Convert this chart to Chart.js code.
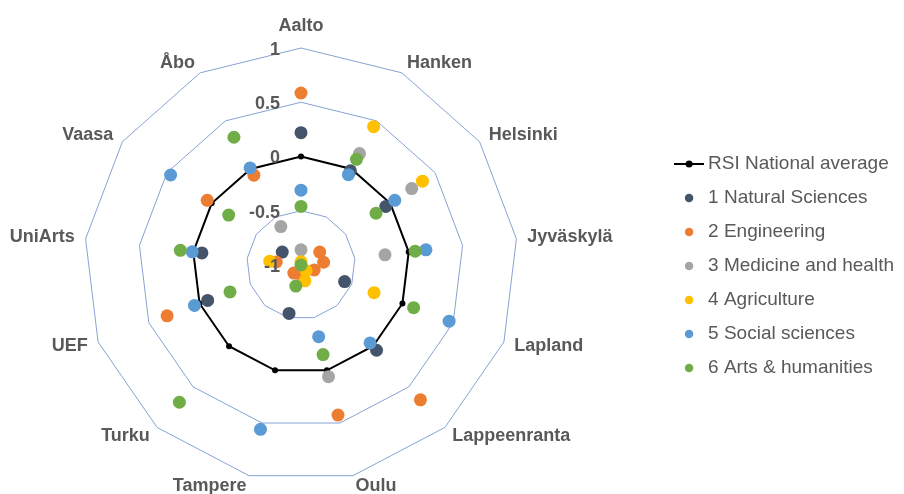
<!DOCTYPE html>
<html lang="en">
  <head>
    <meta charset="UTF-8" />
    <title>RSI radar</title>
    <script src="https://cdn.jsdelivr.net/npm/chart.js"></script>
    <style>
      html, body { margin: 0; padding: 0; background: #fff; overflow: hidden; }
      #wrap { position: relative; width: 904px; height: 494px; }
    </style>
  </head>
  <body>
    <div id="wrap"><canvas id="myChart"></canvas></div>

    <script>
      // universities round the radar, starting at the top, clockwise
      const categories = ["Aalto", "Hanken", "Helsinki", "Jyväskylä", "Lapland", "Lappeenranta",
        "Oulu", "Tampere", "Turku", "UEF", "UniArts", "Vaasa", "Åbo"];
      const tickValues = [-1, -0.5, 0, 0.5, 1];

      // RSI values per field (null = not plotted)
      const nationalAvg = [0, 0, 0, 0, 0, 0, 0, 0, 0, 0, 0, 0, 0];
      const naturalSciences = [0.22, -0.02, -0.05, null, -0.57, 0.05, null, -0.54, null, -0.08, -0.08, -0.79, null];
      const engineering = [0.585, null, -0.79, -0.79, -0.87, 0.66, 0.425, -0.92, -0.9, 0.32, -0.77, 0.05, -0.065];
      const medicine = [-0.86, 0.16, 0.24, -0.22, null, null, 0.06, null, null, null, null, null, -0.6];
      const agriculture = [-0.97, 0.44, 0.36, null, -0.28, -0.93, -0.85, null, null, null, -0.71, null, null];
      const socialSciences = [-0.31, -0.06, 0.05, 0.16, 0.46, -0.04, -0.32, 0.56, null, 0.05, 0.01, 0.46, 0.01];
      const artsHumanities = [-0.46, 0.1, -0.16, 0.06, 0.11, -1, -0.15, -0.8, 0.69, -0.3, 0.12, -0.19, 0.33];

      const grey = "#595959";
      const fontFamily = "'Liberation Sans', Arial, sans-serif";

      // legend icon for the average: short line with a dot
      const lineIcon = document.createElement("canvas");
      lineIcon.width = 30;
      lineIcon.height = 10;
      const ic = lineIcon.getContext("2d");
      ic.strokeStyle = "#000";
      ic.lineWidth = 2;
      ic.beginPath();
      ic.moveTo(0, 5);
      ic.lineTo(30, 5);
      ic.stroke();
      ic.beginPath();
      ic.arc(15, 5, 3.5, 0, Math.PI * 2);
      ic.fillStyle = "#000";
      ic.fill();

      function dots(label, data, color, order) {
        return {
          label: label,
          data: data,
          showLine: false,
          fill: false,
          borderColor: color,
          backgroundColor: color,
          pointBackgroundColor: color,
          pointBorderColor: color,
          pointBorderWidth: 0,
          pointRadius: 6.5,
          pointHoverRadius: 6.5,
          order: order
        };
      }

      // Excel-like labels: university names outside the rim, value labels left of the axis
      const excelLabels = {
        id: "excelLabels",
        afterDatasetsDraw(chart) {
          const r = chart.scales.r;
          const ctx = chart.ctx;
          ctx.save();
          ctx.fillStyle = grey;
          ctx.font = "bold 18px " + fontFamily;
          ctx.textBaseline = "middle";
          categories.forEach((name, i) => {
            const p = r.getPointPosition(i, r.drawingArea + 11);
            if (i === 0) {
              ctx.textAlign = "center";
              ctx.fillText(name, p.x, p.y - 11);
            } else {
              ctx.textAlign = p.x > r.xCenter ? "left" : "right";
              ctx.fillText(name, p.x, p.y);
            }
          });
          ctx.textAlign = "right";
          r.ticks.forEach(t => {
            const y = r.yCenter - r.getDistanceFromCenterForValue(t.value);
            ctx.fillText(t.label, r.xCenter - 21, y + 2);
          });
          ctx.restore();
        }
      };

      const ctx = document.getElementById("myChart").getContext("2d");
      const myChart = new Chart(ctx, {
        type: "radar",
        data: {
          labels: categories,
          datasets: [
            {
              label: "RSI National average",
              data: nationalAvg,
              fill: false,
              borderColor: "#000",
              backgroundColor: "#000",
              borderWidth: 2,
              pointBackgroundColor: "#000",
              pointBorderWidth: 0,
              pointRadius: 3,
              pointHoverRadius: 3,
              order: 7
            },
            dots("1 Natural Sciences", naturalSciences, "#44546A", 6),
            dots("2 Engineering", engineering, "#ED7D31", 5),
            dots("3 Medicine and health", medicine, "#A5A5A5", 4),
            dots("4 Agriculture", agriculture, "#FFC000", 3),
            dots("5 Social sciences", socialSciences, "#5B9BD5", 2),
            dots("6 Arts & humanities", artsHumanities, "#70AD47", 1)
          ]
        },
        options: {
          responsive: true,
          maintainAspectRatio: false,
          animation: false,
          locale: "en-US",
          layout: { padding: { top: 38 } },
          plugins: {
            tooltip: { enabled: false },
            legend: {
              position: "right",
              labels: {
                usePointStyle: true,
                boxHeight: 6,
                padding: 15,
                color: grey,
                font: { family: fontFamily, size: 19 },
                sort: (a, b) => a.datasetIndex - b.datasetIndex,
                generateLabels(chart) {
                  const items = Chart.defaults.plugins.legend.labels.generateLabels(chart);
                  items.forEach(it => {
                    if (it.datasetIndex === 0) it.pointStyle = lineIcon;
                  });
                  return items;
                }
              }
            }
          },
          scales: {
            r: {
              min: tickValues[0],
              max: tickValues[tickValues.length - 1],
              ticks: { stepSize: 0.5, display: false, callback: v => String(v) },
              grid: { color: "#86a2d4", lineWidth: 1 },
              angleLines: { display: false },
              pointLabels: { display: false },
              afterFit(scale) {
                // put the web where it sits in the original picture
                scale.xCenter = 301;
                scale.yCenter = 265;
                scale.drawingArea = 217;
              }
            }
          }
        },
        plugins: [excelLabels]
      });
    </script>
  </body>
</html>
